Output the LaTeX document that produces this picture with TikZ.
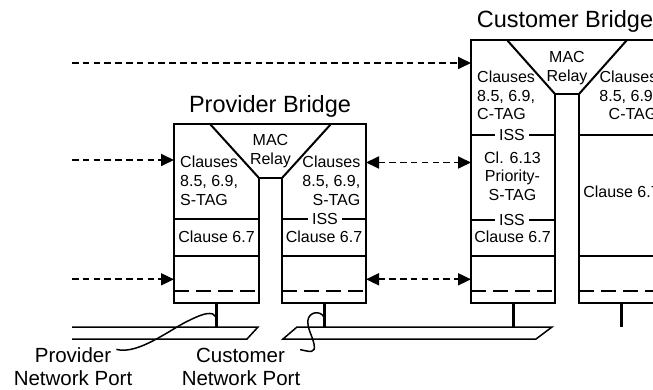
\documentclass[tikz,border=0pt]{standalone}
\usepackage{fontspec}
\setmainfont{Liberation Sans}
\usetikzlibrary{arrows.meta}
\begin{document}
\begin{tikzpicture}[x=1pt,y=-1pt,
  outl/.style={line width=2pt, line join=miter},
  sepline/.style={line width=2pt},
  stemline/.style={line width=3pt},
  busline/.style={line width=1.5pt, line join=miter},
  idash/.style={line width=1.7pt, dash pattern=on 15pt off 7pt},
  tipA/.tip={Triangle[length=13pt,width=12pt]},
  darrow/.style={line width=1.8pt, dash pattern=on 6.5pt off 4.3pt, -tipA},
  ddarrow/.style={line width=1.8pt, dash pattern=on 6.5pt off 4.3pt, tipA-tipA},
  leader/.style={line width=1.5pt},
  txt/.style={inner sep=0pt, font=\fontsize{16}{18.7}\selectfont},
  tl/.style={txt, anchor=base west},
  tr/.style={txt, anchor=base east},
  tc/.style={txt, anchor=base},
  iss/.style={txt, fill=white, inner xsep=4pt, inner ysep=0pt, anchor=center},
  title/.style={inner sep=0pt, anchor=base, font=\fontsize{23.5}{28}\selectfont},
  lab/.style={inner sep=0pt, anchor=base, font=\fontsize{20.5}{24}\selectfont}
]
\useasboundingbox (0,0) rectangle (653,390);
\clip (0,0) rectangle (653,390);

% ---------- edge coordinates ----------
\coordinate (pbL) at (174,0);
\coordinate (pbR) at (366,0);
\coordinate (cbL) at (471,0);

% ---------- Provider Bridge ----------
\node[title] (pbt) at (270,112.7) {Provider Bridge};
\draw[outl] (174,124) -- (366,124) -- (366,303) -- (282,303) -- (282,178)
  -- (259,178) -- (259,303) -- (174,303) -- cycle;
\draw[outl] (210,124) -- (259,178);
\draw[outl] (331,124) -- (282,178);
\draw[sepline] (174,219) -- (259,219);
\draw[sepline] (174,255.5) -- (259,255.5);
\draw[idash] (174,291) -- (259,291);
\draw[sepline] (282,219) -- (366,219);
\draw[sepline] (282,255.5) -- (366,255.5);
\draw[idash] (282,291) -- (366,291);

\node[tc] (pmac) at (270.5,146) {MAC};
\node[tc] (prel) at (270.5,165) {Relay};
\node[tl] (pl1) at (180,167.5) {Clauses};
\node[tl] (pl2) at (180,186.2) {8.5, 6.9,};
\node[tl] (pl3) at (180,205) {S-TAG};
\node[tc] (pl4) at (216.5,242) {Clause 6.7};
\node[tr] (pr1) at (360.5,167.5) {Clauses};
\node[tr] (pr2) at (360.5,186.2) {8.5, 6.9,};
\node[tr] (pr3) at (360.5,205) {S-TAG};
\node[iss] (priss) at (325,219) {ISS};
\node[tc] (pr4) at (324,242) {Clause 6.7};

% ---------- Customer Bridge ----------
\node[title] (cbt) at (565,28) {Customer Bridge};
\draw[outl] (471,40) -- (663,40) -- (663,303) -- (579,303) -- (579,94)
  -- (555,94) -- (555,303) -- (471,303) -- cycle;
\draw[outl] (507,40) -- (555,94);
\draw[outl] (627,40) -- (579,94);
\draw[sepline] (471,135.3) -- (555,135.3);
\draw[sepline] (471,220) -- (555,220);
\draw[sepline] (471,255.5) -- (555,255.5);
\draw[idash] (471,291) -- (555,291);
\draw[sepline] (579,135.3) -- (663,135.3);
\draw[sepline] (579,255.5) -- (663,255.5);
\draw[idash] (579,291) -- (663,291);

\node[tc] (cmac) at (567,62.5) {MAC};
\node[tc] (crel) at (567,81.5) {Relay};
\node[tl] (cl1) at (477,82.5) {Clauses};
\node[tl] (cl2) at (477,101.2) {8.5, 6.9,};
\node[tl] (cl3) at (477,120) {C-TAG};
\node[iss] (cliss1) at (512,135.3) {ISS};
\node[tc] (cl4) at (512.5,163.5) {Cl. 6.13};
\node[tc] (cl5) at (512.5,182) {Priority-};
\node[tc] (cl6) at (512.5,200.5) {S-TAG};
\node[iss] (cliss2) at (512,220) {ISS};
\node[tc] (cl7) at (512.5,243) {Clause 6.7};
\node[tr] (cr1) at (657.5,82.5) {Clauses};
\node[tr] (cr2) at (657.5,101.2) {8.5, 6.9,};
\node[tr] (cr3) at (657.5,120) {C-TAG};
\node[tc] (cr4) at (621.5,198) {Clause 6.7};

% ---------- stems and LANs ----------
\draw[stemline] (216,303) -- (216,327);
\draw[stemline] (324,303) -- (324,327);
\draw[stemline] (513,303) -- (513,327);
\draw[stemline] (621,303) -- (621,327);
\draw[busline] (72,327) -- (258,327) -- (247,339) -- (72,339);
\draw[busline] (297,327) -- (552,327) -- (536,339) -- (283,339) -- cycle;

% ---------- dashed arrows ----------
\coordinate (s1) at (72,63);
\coordinate (s2) at (72,160);
\coordinate (s3) at (72,279.3);
\coordinate (m2) at (0,162.5);
\draw[darrow] (s1) -- (s1 -| cbL);
\draw[darrow] (s2) -- (s2 -| pbL);
\draw[darrow] (s3) -- (s3 -| pbL);
\draw[ddarrow] (pbR |- m2) -- (cbL |- m2);
\draw[ddarrow] (pbR |- s3) -- (cbL |- s3);

% ---------- port labels ----------
\node[lab] (pnp1) at (73,362.7) {Provider};
\node[lab] (pnp2) at (73,385.5) {Network Port};
\node[lab] (cnp1) at (240.5,362.7) {Customer};
\node[lab] (cnp2) at (241,385.5) {Network Port};
\coordinate (pstem) at (216,317);
\coordinate (cstem) at (324,317);
\draw[leader] (pnp1.east) ++(5,-6) .. controls +(22,6) and (172,328) .. (190,320)
  .. controls (204,313) and (213,311) .. (pstem);
\draw[leader] (cnp1.east) ++(15,-6) .. controls +(10,2) and (316,354) .. (314,344)
  .. controls (312,335) and (307,328) .. (308,320)
  .. controls (309,312) and (320,310) .. (cstem);
\end{tikzpicture}
\end{document}
